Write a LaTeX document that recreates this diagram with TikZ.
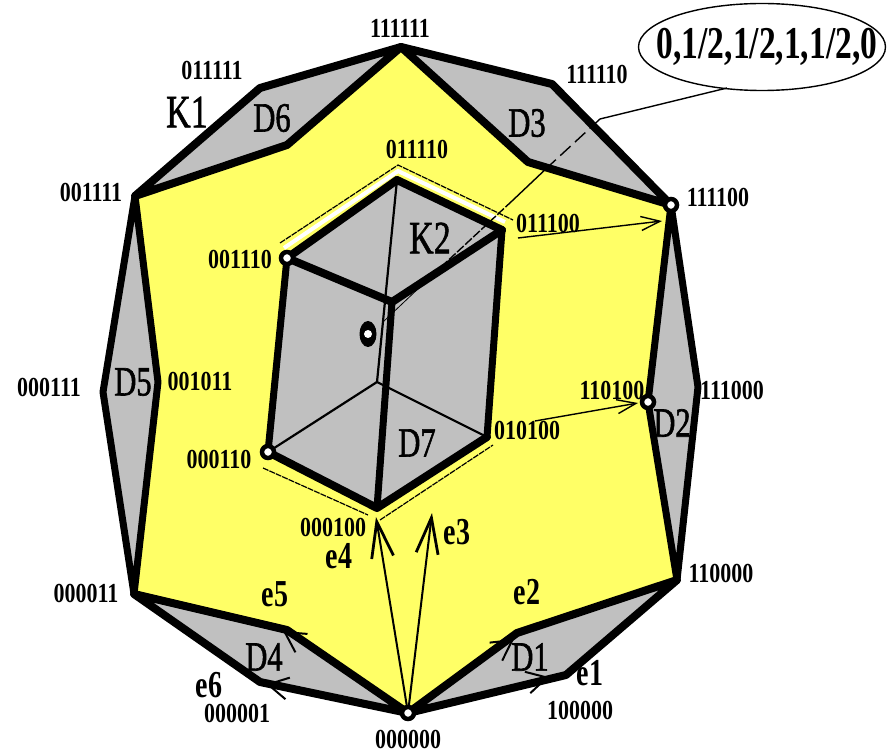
\documentclass[tikz,border=0pt]{standalone}
\usepackage{fontspec}
\usepackage{graphicx}
\setmainfont{Liberation Serif}
\newfontfamily\boldlab{Liberation Serif Bold}
\usetikzlibrary{arrows.meta,shapes.geometric}
\definecolor{faceyellow}{HTML}{FFFF66}
\definecolor{facegray}{HTML}{C0C0C0}
\newcommand{\lab}[1]{\scalebox{1}[1.25]{#1}}
\newcommand{\tall}[1]{\scalebox{1}[1.36]{#1}}
\newcommand{\stout}[1]{\special{pdf:code 2 Tr 0.5 w}\scalebox{1}[1.36]{#1}\special{pdf:code 0 Tr 1 w}}
\tikzset{
  face/.style={fill=facegray,draw=none},
  heavy/.style={draw=black,line width=8pt,line join=round,line cap=round},
  midheavy/.style={draw=black,line width=7pt,line join=round,line cap=round},
  hidden/.style={draw=black,line width=2.2pt},
  outline/.style={draw=black,line width=1.2pt,dash pattern=on 6pt off 1pt},
  leader/.style={draw=black,line width=1.4pt},
  edgearrow/.style={draw=black,line width=1.4pt,-{Straight Barb[length=20pt,width=22pt,line width=2pt]}},
  longarrow/.style={draw=black,line width=2pt,-{Straight Barb[length=36pt,width=22pt,line width=2.8pt]}},
  textarrow/.style={draw=black,line width=1.4pt,-{Straight Barb[length=19pt,width=14pt,line width=1.4pt]}},
  vlabel/.style={font=\boldlab\fontsize{22}{22}\selectfont,inner sep=0pt},
  dlabel/.style={font=\fontsize{30.5}{30.5}\selectfont,inner sep=0pt},
  klabel/.style={font=\fontsize{34}{34}\selectfont,inner sep=0pt},
  elabel/.style={font=\boldlab\fontsize{28}{28}\selectfont,inner sep=0pt},
  vertexdot/.style={circle,fill=white,draw=black,line width=4.5pt,minimum size=12pt,inner sep=0pt},
}
\begin{document}
\begin{tikzpicture}[x=1pt,y=-1pt]
\useasboundingbox (0,0) rectangle (887,754);
\fill[white] (0,0) rectangle (887,754);
% outer vertices
\coordinate (T) at (401,47);
\coordinate (o3) at (552,84);
\coordinate (R1) at (671,205);
\coordinate (o2) at (698,387);
\coordinate (R2) at (677,580);
\coordinate (o1) at (566,675);
\coordinate (B) at (408,713);
\coordinate (o4) at (260,682);
\coordinate (L2) at (134,594);
\coordinate (o5) at (103,392);
\coordinate (L1) at (135,196);
\coordinate (o6) at (260,88);
% inner vertices
\coordinate (i3) at (528,162);
\coordinate (i2) at (648,402);
\coordinate (i1) at (517,633);
\coordinate (i4) at (287,630);
\coordinate (i5) at (158,382);
\coordinate (i6) at (287,145);
% hexagon
\coordinate (hT) at (397,180);
\coordinate (hR) at (502,230);
\coordinate (hC) at (392,302);
\coordinate (hL) at (287,258);
\coordinate (hLL) at (268,452);
\coordinate (hB) at (377,508);
\coordinate (hRR) at (487,437);
\coordinate (hX) at (377,382);
% outline points round the hexagon
\coordinate (uL) at (280,243);
\coordinate (uT) at (398,165);
\coordinate (uR) at (513,220);
\coordinate (wL) at (284,248);
\coordinate (wT) at (398,171);
\coordinate (wR) at (505,222);
\coordinate (dL) at (263,468);
\coordinate (dM) at (368,515);
\coordinate (dN) at (380,520);
\coordinate (dR) at (493,445);
% faces
\fill[faceyellow] (T)--(i3)--(R1)--(i2)--(R2)--(i1)--(B)--(i4)--(L2)--(i5)--(L1)--(i6)--cycle;
\path[face] (T)--(o3)--(R1)--(i3)--cycle;
\path[face] (R1)--(o2)--(R2)--(i2)--cycle;
\path[face] (R2)--(o1)--(B)--(i1)--cycle;
\path[face] (B)--(o4)--(L2)--(i4)--cycle;
\path[face] (L2)--(o5)--(L1)--(i5)--cycle;
\path[face] (L1)--(o6)--(T)--(i6)--cycle;
\path[face] (hT)--(hR)--(hRR)--(hB)--(hLL)--(hL)--cycle;
% outlines beside the hexagon
\draw[white,line width=4pt] (wL)--(wT)--(wR);
\draw[outline] (uL)--(uT)--(uR);
\draw[outline] (dL)--(dM);
\draw[outline] (dN)--(dR);
% hidden edges of the cube
\draw[hidden] (hT)--(hX);
\draw[hidden] (hX)--(hLL);
\draw[hidden] (hX)--(hRR);
% callout
\node[ellipse,draw=black,line width=1.4pt,minimum width=247pt,minimum height=87pt,inner sep=0pt] (callout) at (762,47) {};
\coordinate (cA) at (600,119);
\coordinate (cM) at (549,166);
\coordinate (cN) at (512,201);
\coordinate (cB) at (440,268);
\coordinate (cC) at (383,322);
\coordinate (cStart) at (727,88);
\draw[leader] (cStart)--(cA);
\draw[leader,dash pattern=on 14pt off 6pt] (cA)--(cM);
\draw[leader] (cM)--(cN);
\draw[leader,dash pattern=on 9pt off 2pt] (cN)--(cB);
\draw[draw=black,line width=0.8pt] (cB)--(cC);
% heavy contours
\draw[heavy] (T)--(o3)--(R1)--(i3)--cycle;
\draw[midheavy] (R1)--(o2)--(R2)--(i2)--cycle;
\draw[heavy] (R2)--(o1)--(B)--(i1)--cycle;
\draw[heavy] (B)--(o4)--(L2)--(i4)--cycle;
\draw[midheavy] (L2)--(o5)--(L1)--(i5)--cycle;
\draw[heavy] (L1)--(o6)--(T)--(i6)--cycle;
\draw[heavy] (hT)--(hR);
\draw[midheavy] (hR)--(hRR);
\draw[heavy] (hRR)--(hB)--(hLL);
\draw[midheavy] (hLL)--(hL);
\draw[heavy] (hL)--(hT);
\draw[heavy] (hL)--(hC)--(hR);
\draw[midheavy] (hC)--(hB);
% arrows
\coordinate (a4) at (376,517);
\coordinate (a3) at (432,513);
\coordinate (a1) at (549,677);
\coordinate (a2) at (514,639);
\coordinate (a5) at (283,631);
\coordinate (a6) at (266,684);
\coordinate (t1) at (518,238);
\coordinate (t2) at (662,221);
\coordinate (t3) at (535,421);
\coordinate (t4) at (638,403);
\draw[longarrow] (B)--(a4);
\draw[longarrow] (B)--(a3);
\draw[edgearrow] (B)--(a1);
\draw[edgearrow] (B)--(a2);
\draw[edgearrow] (B)--(a5);
\draw[edgearrow] (B)--(a6);
\draw[textarrow] (t1)--(t2);
\draw[textarrow] (t3)--(t4);
% vertex marks
\node[vertexdot] (vB) at (B) {};
\node[vertexdot] (vR1) at (R1) {};
\node[vertexdot] (vI2) at (i2) {};
\node[vertexdot] (vHL) at (hL) {};
\node[vertexdot] (vLL) at (hLL) {};
\coordinate (back) at (368,334);
\fill[black] (back) ellipse [x radius=8.5pt,y radius=13pt];
\node[circle,fill=white,minimum size=8pt,inner sep=0pt] (vBack) at (back) {};
% vertex labels
\node[vlabel] (n111111) at (400,28) {\lab{111111}};
\node[vlabel] (n011111) at (212,70) {\lab{011111}};
\node[vlabel] (n111110) at (597,74) {\lab{111110}};
\node[vlabel] (n111100) at (718,197) {\lab{111100}};
\node[vlabel] (n011110) at (417,149) {\lab{011110}};
\node[vlabel] (n011100) at (548,223) {\lab{011100}};
\node[vlabel] (n001111) at (91,192) {\lab{001111}};
\node[vlabel] (n001110) at (240,259) {\lab{001110}};
\node[vlabel] (n000111) at (49,387) {\lab{000111}};
\node[vlabel] (n001011) at (200,381) {\lab{001011}};
\node[vlabel] (n110100) at (612,390) {\lab{110100}};
\node[vlabel] (n111000) at (732,390) {\lab{111000}};
\node[vlabel] (n010100) at (527,430) {\lab{010100}};
\node[vlabel] (n000110) at (219,459) {\lab{000110}};
\node[vlabel] (n000100) at (333,527) {\lab{000100}};
\node[vlabel] (n000011) at (86,593) {\lab{000011}};
\node[vlabel] (n110000) at (721,573) {\lab{110000}};
\node[vlabel] (n000001) at (237,713) {\lab{000001}};
\node[vlabel] (n100000) at (580,710) {\lab{100000}};
\node[vlabel] (n000000) at (408,739) {\lab{000000}};
% callout text
\node[font=\boldlab\fontsize{33.5}{33.5}\selectfont,inner sep=0pt] (calloutText) at (767,47) {\tall{0,1/2,1/2,1,1/2,0}};
% face labels
\node[dlabel] (D1) at (530,657) {\stout{D1}};
\node[dlabel] (D2) at (672,423) {\stout{D2}};
\node[dlabel] (D3) at (527,123) {\stout{D3}};
\node[dlabel] (D4) at (264,657) {\stout{D4}};
\node[dlabel] (D5) at (133,382) {\stout{D5}};
\node[dlabel] (D6) at (272,118) {\stout{D6}};
\node[dlabel] (D7) at (417,443) {\stout{D7}};
\node[klabel] (K1) at (187,112) {\stout{K1}};
\node[klabel] (K2) at (430,238) {\stout{K2}};
% edge labels
\node[elabel] (e1) at (590,673) {\tall{e1}};
\node[elabel] (e2) at (527,592) {\tall{e2}};
\node[elabel] (e3) at (457,532) {\tall{e3}};
\node[elabel] (e4) at (339,556) {\tall{e4}};
\node[elabel] (e5) at (275,594) {\tall{e5}};
\node[elabel] (e6) at (209,685) {\tall{e6}};
\end{tikzpicture}
\end{document}
